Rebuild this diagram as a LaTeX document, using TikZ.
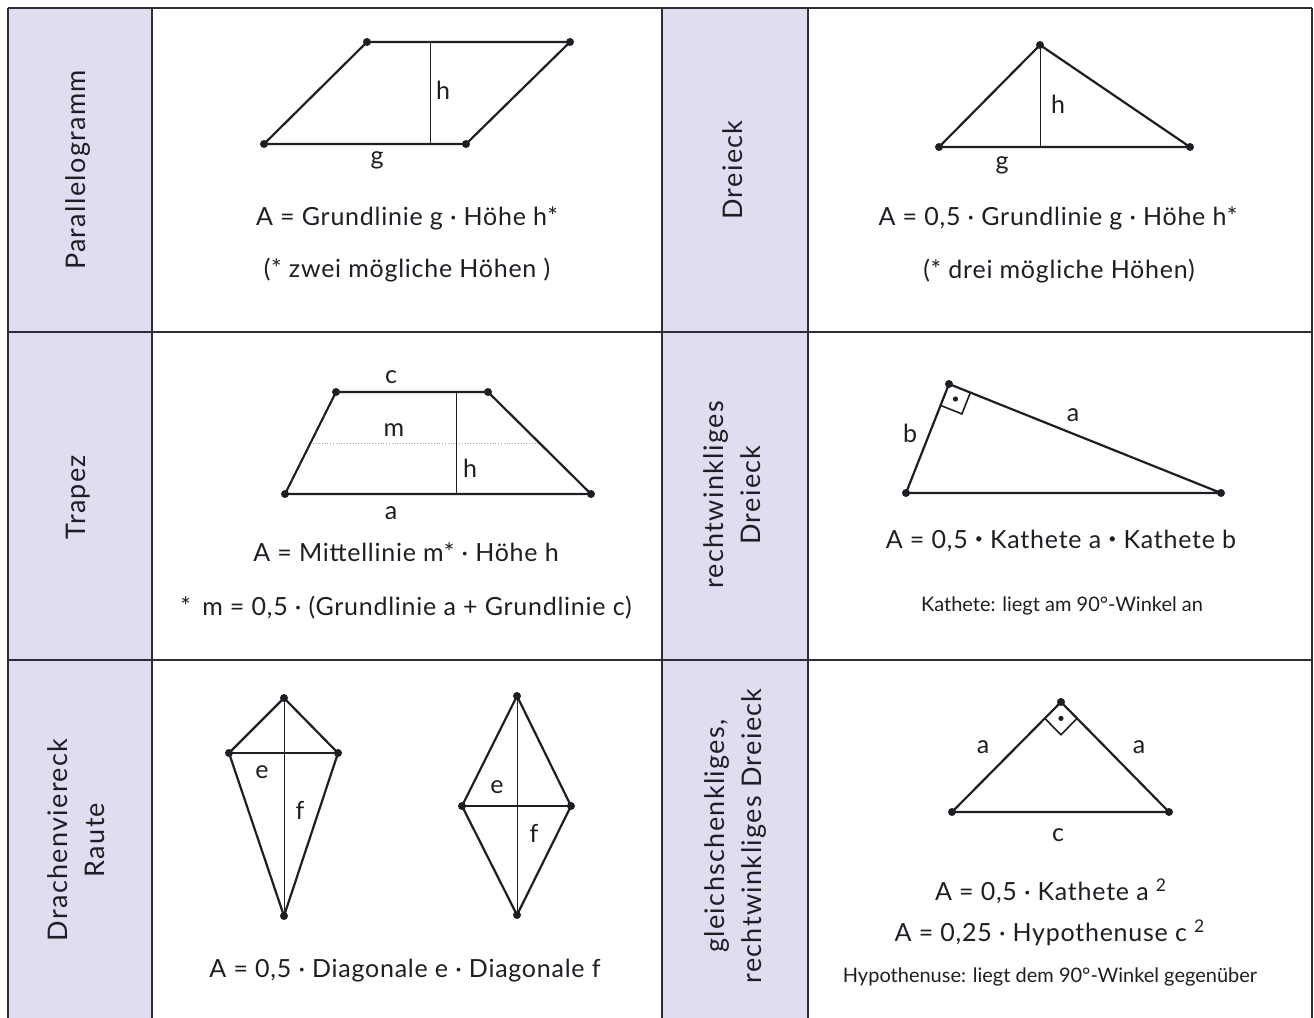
\documentclass[tikz,border=0pt]{standalone}
\usepackage{fontspec}
\setmainfont{Lato}
\newfontfamily\formfont[LetterSpace=3]{Lato}
\newfontfamily\headfont[LetterSpace=5]{Lato}
\usetikzlibrary{calc}
\definecolor{HeadLilac}{RGB}{222,222,240}
\definecolor{RuleGray}{RGB}{45,45,58}
\definecolor{FigInk}{RGB}{30,30,36}
\newcommand{\kdot}{\raisebox{0.35ex}{\fontsize{7}{7}\selectfont•}}

\begin{document}
\begin{tikzpicture}[x=0.5pt,y=-0.5pt,
  head/.style={rotate=90,align=center,font=\headfont\fontsize{13.5}{18.5}\selectfont,text=FigInk},
  formula/.style={anchor=base,font=\formfont\fontsize{12.5}{14}\selectfont,text=FigInk,inner sep=0pt},
  remark/.style={anchor=base,font=\fontsize{10}{12}\selectfont,text=FigInk,inner sep=0pt},
  lbl/.style={font=\formfont\fontsize{12.5}{14}\selectfont,text=FigInk,inner sep=0pt},
  side/.style={draw=FigInk,line width=1.1pt,line join=round},
  hline/.style={draw=FigInk,line width=0.5pt},
  midline/.style={draw=gray!70,line width=0.4pt,densely dotted},
  gridline/.style={draw=RuleGray,line width=1.3pt},
]
\useasboundingbox (0,0) rectangle (1314,1018);
\fill[white] (0,0) rectangle (1314,1018);

%% header columns and grid
\fill[HeadLilac] (8,8) rectangle (152,1018);
\fill[HeadLilac] (662,8) rectangle (808,1018);
\foreach \gx in {8,152,662,808}
  \draw[gridline] (\gx,8) -- (\gx,1018);
\draw[gridline,line width=0.6pt] (1312,8) -- (1312,1018);
\foreach \gy in {8,332,660}
  \draw[gridline] (8,\gy) -- (1312,\gy);

%% row headers
\node[head] (hpar) at (78,170)  {Parallelogramm};
\node[head] (hdre) at (733,170) {Dreieck};
\node[head] (htra) at (78,497)  {Trapez};
\node[head] (hrwd) at (732,495) {rechtwinkliges\\Dreieck};
\node[head] (hdra) at (76,840)  {Drachenviereck\\Raute};
\node[head] (hgrd) at (736,836) {gleichschenkliges,\\rechtwinkliges Dreieck};

%% Parallelogramm
\coordinate (pa) at (264,144); \coordinate (pb) at (466,144);
\coordinate (pc) at (570,42);  \coordinate (pd) at (367,42);
\draw[side] (pa) -- (pb) -- (pc) -- (pd) -- cycle;
\draw[hline] (430,42) -- (430,144);
\node[lbl] (parh) at (443,90)  {h};
\node[lbl] (parg) at (377,160) {g};
\node[formula] (parf) at (407,225) {A = Grundlinie g · Höhe h*};
\node[formula] (parn) at (407,277) {(* zwei mögliche Höhen )};

%% Dreieck
\coordinate (da) at (939,147); \coordinate (db) at (1190,147);
\coordinate (dc) at (1040,45);
\draw[side] (da) -- (db) -- (dc) -- cycle;
\draw[hline] (dc) -- (1040,147);
\node[lbl] (dreh) at (1058,104) {h};
\node[lbl] (dreg) at (1002,165) {g};
\node[formula] (dref) at (1058,225) {A = 0,5 · Grundlinie g · Höhe h*};
\node[formula] (dren) at (1059,278) {(* drei mögliche Höhen)};

%% Trapez
\coordinate (ta) at (285,494); \coordinate (tb) at (591,494);
\coordinate (tc) at (488,392); \coordinate (td) at (336,392);
\draw[side] (ta) -- (tb) -- (tc) -- (td) -- cycle;
\draw[midline] ($(ta)!0.5!(td)$) -- ($(tb)!0.5!(tc)$);
\draw[hline] (456,392) -- (456,494);
\node[lbl] (trac) at (391,377) {c};
\node[lbl] (tram) at (394,430) {m};
\node[lbl] (trah) at (470,468) {h};
\node[lbl] (traa) at (391,513) {a};
\node[formula] (traf) at (406,561) {A = Mittellinie m* · Höhe h};
\node[formula] (tran) at (406,615) {*\, m = 0,5 · (Grundlinie a + Grundlinie c)};

%% rechtwinkliges Dreieck
\coordinate (ra) at (906,493); \coordinate (rb) at (1221,493);
\coordinate (rc) at (949,384);
\draw[side] (ra) -- (rb) -- (rc) -- cycle;
\coordinate (rq1) at ($(rc)!11.5pt!(ra)$);
\coordinate (rq2) at ($(rc)!11.5pt!(rb)$);
\coordinate (rq3) at ($(rq1)+(rq2)-(rc)$);
\draw[hline,line width=0.8pt] (rq1) -- (rq3) -- (rq2);
\fill[FigInk] ($(rc)!0.5!(rq3)$) circle (1.3pt);
\node[lbl] (rwdb) at (910,433)  {b};
\node[lbl] (rwda) at (1073,415) {a};
\node[formula] (rwdf) at (1061,548) {A = 0,5 \kdot{} Kathete a \kdot{} Kathete b};
\node[remark] (rwdn) at (1062,611) {Kathete: liegt am 90°-Winkel an};

%% Drachenviereck und Raute
\coordinate (ka) at (284,698); \coordinate (kb) at (229,753);
\coordinate (kc) at (284,916); \coordinate (kd) at (338,753);
\draw[side] (ka) -- (kb) -- (kc) -- (kd) -- cycle;
\draw[hline,line width=0.7pt] (kb) -- (kd);
\draw[hline] (ka) -- (kc);
\node[lbl] (drae) at (262,772) {e};
\node[lbl] (draf) at (300,810) {f};
\coordinate (ua) at (517,696); \coordinate (ub) at (462,806);
\coordinate (uc) at (517,915); \coordinate (ud) at (571,806);
\draw[side] (ua) -- (ub) -- (uc) -- (ud) -- cycle;
\draw[hline,line width=0.7pt] (ub) -- (ud);
\draw[hline] (ua) -- (uc);
\node[lbl] (raue) at (497,787) {e};
\node[lbl] (rauf) at (534,833) {f};
\node[formula] (draform) at (405,977) {A = 0,5 · Diagonale e · Diagonale f};

%% gleichschenkliges, rechtwinkliges Dreieck
\coordinate (ga) at (952,812); \coordinate (gb) at (1169,812);
\coordinate (gc) at (1061,702);
\draw[side] (ga) -- (gb) -- (gc) -- cycle;
\coordinate (gq1) at ($(gc)!11.5pt!(ga)$);
\coordinate (gq2) at ($(gc)!11.5pt!(gb)$);
\coordinate (gq3) at ($(gq1)+(gq2)-(gc)$);
\draw[hline,line width=0.8pt] (gq1) -- (gq3) -- (gq2);
\fill[FigInk] ($(gc)!0.5!(gq3)$) circle (1.3pt);
\node[lbl] (grda) at (983,747)  {a};
\node[lbl] (grdb) at (1139,747) {a};
\node[lbl] (grdc) at (1058,835) {c};
\node[formula] (grdf) at (1051,900) {A = 0,5 · Kathete a \textsuperscript{2}};
\node[formula] (grdg) at (1050,941) {A = 0,25 · Hypothenuse c \textsuperscript{2}};
\node[remark] (grdn) at (1050,982) {Hypothenuse: liegt dem 90°-Winkel gegenüber};

%% vertex dots
\foreach \v in {pa,pb,pc,pd,da,db,dc,ta,tb,tc,td,ra,rb,rc,ka,kb,kc,kd,ua,ub,uc,ud,ga,gb,gc}
  \fill[FigInk] (\v) circle (2pt);
\end{tikzpicture}
\end{document}
